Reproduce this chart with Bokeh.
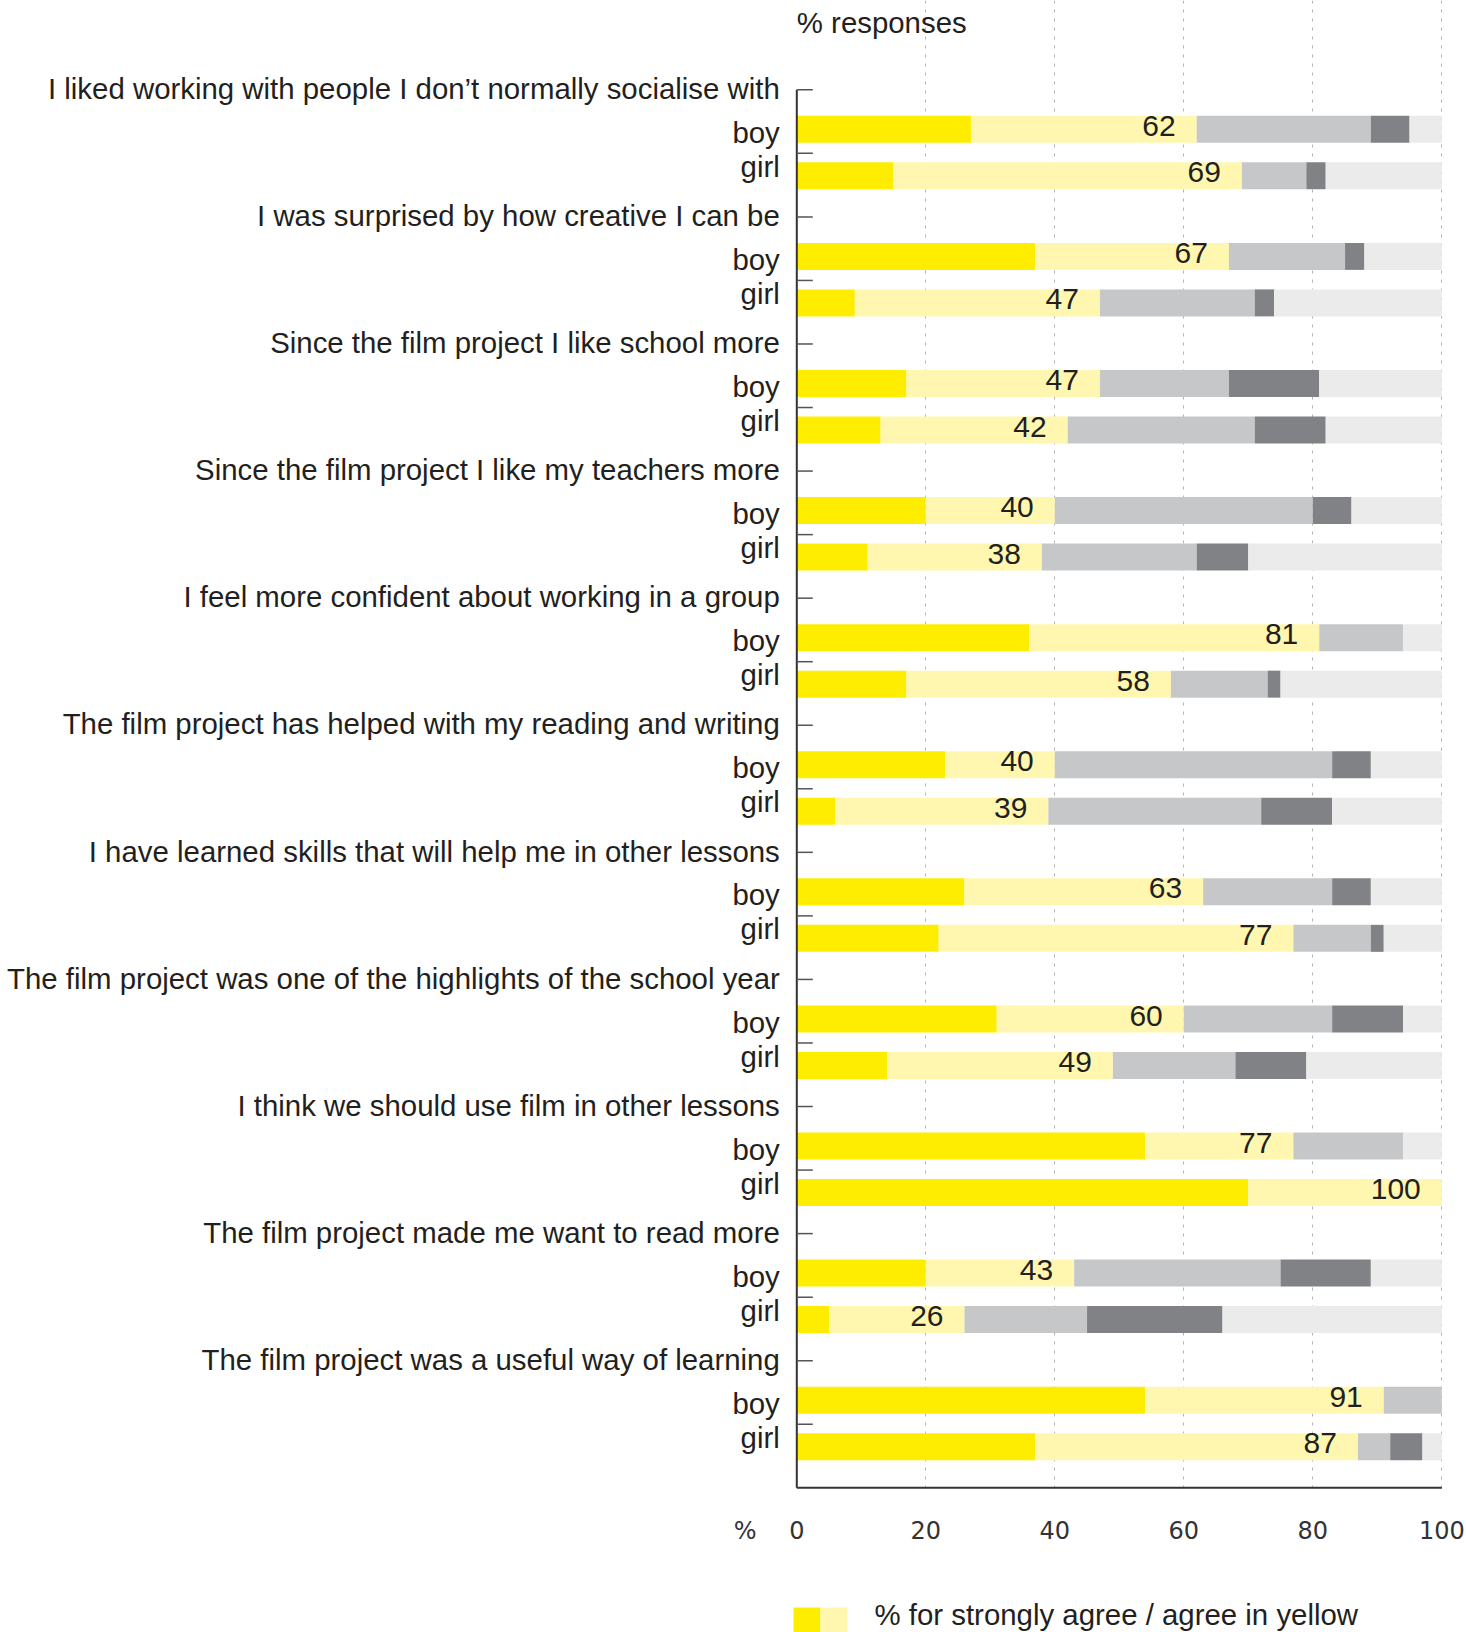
import numpy as np
from bokeh.plotting import figure
from bokeh.models import ColumnDataSource, Range1d, FixedTicker
from bokeh.layouts import column
from bokeh.embed import file_html
from bokeh.resources import INLINE
from bokeh.core.properties import value

# ---------------- data ----------------
questions = [
    "I liked working with people I don\u2019t normally socialise with",
    "I was surprised by how creative I can be",
    "Since the film project I like school more",
    "Since the film project I like my teachers more",
    "I feel more confident about working in a group",
    "The film project has helped with my reading and writing",
    "I have learned skills that will help me in other lessons",
    "The film project was one of the highlights of the school year",
    "I think we should use film in other lessons",
    "The film project made me want to read more",
    "The film project was a useful way of learning",
]
groups = ["boy", "girl"]

boy_strongly_agree = [27, 37, 17, 20, 36, 23, 26, 31, 54, 20, 54]
boy_agree          = [35, 30, 30, 20, 45, 17, 37, 29, 23, 23, 37]
boy_neutral        = [27, 18, 20, 40, 13, 43, 20, 23, 17, 32, 9]
boy_disagree       = [6, 3, 14, 6, 0, 6, 6, 11, 0, 14, 0]
boy_other          = [5, 12, 19, 14, 6, 11, 11, 6, 6, 11, 0]

girl_strongly_agree = [15, 9, 13, 11, 17, 6, 22, 14, 70, 5, 37]
girl_agree          = [54, 38, 29, 27, 41, 33, 55, 35, 30, 21, 50]
girl_neutral        = [10, 24, 29, 24, 15, 33, 12, 19, 0, 19, 5]
girl_disagree       = [3, 3, 11, 8, 2, 11, 2, 11, 0, 21, 5]
girl_other          = [18, 26, 18, 30, 25, 17, 9, 21, 0, 34, 3]

x_ticks = [0, 20, 40, 60, 80, 100]
grid_ticks = [20, 40, 60, 80, 100]

# ---------------- layout constants (pixels) ----------------
FONT = "Liberation Sans"
TXT = "#231f20"
C_SA, C_A, C_N, C_D, C_O = "#ffed00", "#fff7b0", "#c6c7c9", "#808285", "#ebebec"

FW, FH = 1466, 1490          # main frame size
TOP_PAD = 89.3               # px from frame top to first tick
HALF = 63.545                # px between ticks
GROUP = 2 * HALF
AXIS_BOTTOM = 22 * HALF      # y of bottom axis (px from first tick)
BOY_OFF, GIRL_OFF = 39.5, 86.0
BAR_H = 27
PX_PER_UNIT = 6.45
X0 = 796.3                   # canvas x of value 0

x_start = -X0 / PX_PER_UNIT
x_end = (FW - X0) / PX_PER_UNIT

n = len(questions)
idx = np.arange(n)

ybar = np.concatenate([idx * GROUP + BOY_OFF, idx * GROUP + GIRL_OFF])
src = ColumnDataSource(dict(
    y=ybar,
    ylab=ybar - 3.4,
    sa=boy_strongly_agree + girl_strongly_agree,
    a=boy_agree + girl_agree,
    nn=boy_neutral + girl_neutral,
    d=boy_disagree + girl_disagree,
    o=boy_other + girl_other,
))
totals = np.array(src.data["sa"]) + np.array(src.data["a"])
src.data["total"] = totals
src.data["label"] = [str(v) for v in totals]

p = figure(frame_width=FW, frame_height=FH,
           x_range=Range1d(x_start, x_end),
           y_range=Range1d(FH - TOP_PAD, -TOP_PAD),
           y_axis_location=None,
           min_border_left=0, min_border_right=0, min_border_top=0, min_border_bottom=64,
           toolbar_location=None, output_backend="svg")
p.outline_line_color = None
p.background_fill_color = "white"
p.border_fill_color = "white"

# grid
p.ygrid.visible = False
p.xgrid.ticker = FixedTicker(ticks=grid_ticks)
p.xgrid.bounds = (0, AXIS_BOTTOM)
p.xgrid.grid_line_color = "#b3b3b3"
p.xgrid.grid_line_dash = "3 6"
p.xgrid.grid_line_width = 1

# bars
p.hbar_stack(["sa", "a", "nn", "d", "o"], y="y", height=BAR_H,
             fill_color=[C_SA, C_A, C_N, C_D, C_O], line_color=None, source=src)

# value labels
p.text(x="total", y="ylab", text="label", source=src,
       text_align="right", text_baseline="alphabetic", x_offset=-21,
       text_font=value(FONT), text_font_size="30px", text_color=TXT)

# axes drawn as lines
tick_y = np.arange(22) * HALF
p.segment(x0=[0], y0=[0], x1=[0], y1=[AXIS_BOTTOM], line_color="#333333", line_width=2)
p.segment(x0=[0], y0=[AXIS_BOTTOM], x1=[100], y1=[AXIS_BOTTOM], line_color="#333333", line_width=2)
p.segment(x0=np.zeros(22), y0=tick_y, x1=np.full(22, 16 / PX_PER_UNIT), y1=tick_y,
          line_color="#555555", line_width=1.5)

# category labels
LBL_SIZE = "29.4px"
p.text(x=np.zeros(n), y=idx * GROUP - 1.3, text=questions,
       text_align="right", text_baseline="alphabetic", x_offset=-17,
       text_font=value(FONT), text_font_size=LBL_SIZE, text_color=TXT)
p.text(x=np.zeros(n), y=idx * GROUP + 42.6, text=[groups[0]] * n,
       text_align="right", text_baseline="alphabetic", x_offset=-17,
       text_font=value(FONT), text_font_size=LBL_SIZE, text_color=TXT)
p.text(x=np.zeros(n), y=idx * GROUP + 76.6, text=[groups[1]] * n,
       text_align="right", text_baseline="alphabetic", x_offset=-17,
       text_font=value(FONT), text_font_size=LBL_SIZE, text_color=TXT)

# title
p.text(x=[0], y=[-67.4], text=["% responses"], text_align="left", text_baseline="alphabetic",
       text_font=value(FONT), text_font_size=LBL_SIZE, text_color=TXT)

# x axis
PCT_X = -8
p.xaxis.ticker = FixedTicker(ticks=[PCT_X] + x_ticks)
p.xaxis.major_label_overrides = {PCT_X: "%"}
p.xaxis.axis_line_color = None
p.xaxis.major_tick_line_color = None
p.xaxis.minor_tick_line_color = None
p.xaxis.major_label_standoff = 20
p.xaxis.major_label_text_font = "DejaVu Sans"
p.xaxis.major_label_text_font_size = "24px"
p.xaxis.major_label_text_color = "#333333"

# legend figure
LH = 78
lg = figure(frame_width=FW, frame_height=LH,
            x_range=Range1d(0, FW), y_range=Range1d(LH, 0),
            x_axis_location=None, y_axis_location=None,
            min_border=0, toolbar_location=None, output_backend="svg")
lg.outline_line_color = None
lg.grid.visible = False
lg.quad(left=[793, 820], right=[820, 847], top=[53, 53], bottom=[LH, LH],
        fill_color=[C_SA, C_A], line_color=None)
lg.text(x=[874], y=[60], text=["% for strongly agree / agree in yellow"],
        text_align="left", text_baseline="alphabetic",
        text_font=value(FONT), text_font_size=LBL_SIZE, text_color=TXT)

layout = column(p, lg, spacing=0)
open("out.html", "w").write(file_html(layout, INLINE))
